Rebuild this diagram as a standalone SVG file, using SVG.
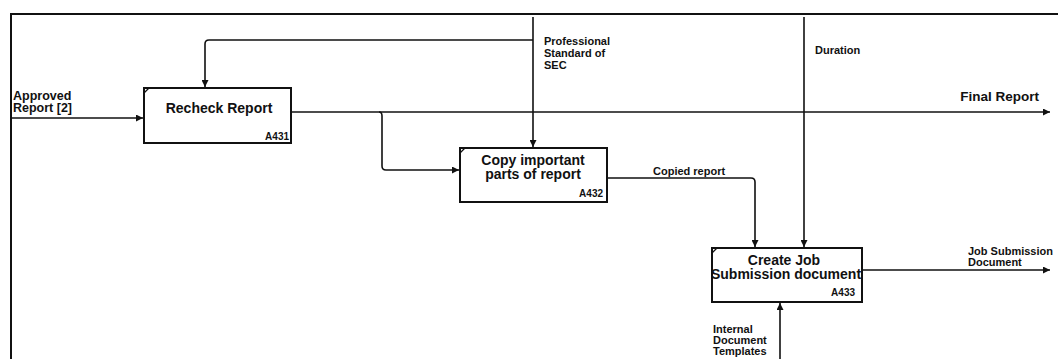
<svg xmlns="http://www.w3.org/2000/svg" width="1058" height="359" viewBox="0 0 1058 359">
  <style>
    text { font-family: "Liberation Sans", Arial, sans-serif; font-weight: bold; fill: #111; }
    .box { fill: #fff; stroke: #111; stroke-width: 2; }
    .tick { stroke: #111; stroke-width: 1.2; fill: none; }
    .title { font-size: 14px; text-anchor: middle; }
    .code { font-size: 10px; text-anchor: end; }
    .lbl { font-size: 11px; }
    .wire { fill: none; stroke: #111; stroke-width: 1.6; }
    .frame { fill: none; stroke: #111; stroke-width: 2; }
  </style>
  <defs>
    <marker id="arrow" viewBox="0 0 10 10" refX="10" refY="5" markerWidth="8" markerHeight="7" markerUnits="userSpaceOnUse" orient="auto">
      <path d="M0,0 L10,5 L0,10 Z" fill="#111"/>
    </marker>
  </defs>

  <rect width="1058" height="359" fill="#fff"/>

  <!-- diagram frame (top and left edges) -->
  <path class="frame" d="M11,359 V14 H1058"/>

  <!-- connectors -->
  <g id="connectors">
    <!-- Approved Report [2] into A431 -->
    <path class="wire" d="M11,118 H143" marker-end="url(#arrow)"/>
    <!-- Professional Standard of SEC: control to A432 -->
    <path class="wire" d="M533,17 V147" marker-end="url(#arrow)"/>
    <!-- branch of control to A431 -->
    <path class="wire" d="M533,40 H209 Q205,40 205,44 V87" marker-end="url(#arrow)"/>
    <!-- A431 output: Final Report -->
    <path class="wire" d="M291,112 H1050" marker-end="url(#arrow)"/>
    <!-- branch of A431 output into A432 -->
    <path class="wire" d="M379,112 Q382,112 382,116 V166 Q382,170 386,170 H459" marker-end="url(#arrow)"/>
    <!-- Copied report: A432 to A433 -->
    <path class="wire" d="M607,178 H751 Q755,178 755,182 V247" marker-end="url(#arrow)"/>
    <!-- Duration: control to A433 -->
    <path class="wire" d="M804,17 V247" marker-end="url(#arrow)"/>
    <!-- A433 output: Job Submission Document -->
    <path class="wire" d="M862,270 H1050" marker-end="url(#arrow)"/>
    <!-- Internal Document Templates: mechanism to A433 -->
    <path class="wire" d="M780,359 V303" marker-end="url(#arrow)"/>

    <text class="lbl" x="13" y="100" style="font-size:12.5px">Approved</text>
    <text class="lbl" x="13" y="112" style="font-size:12.5px">Report [2]</text>
    <text class="lbl" x="544" y="45">Professional</text>
    <text class="lbl" x="544" y="57">Standard of</text>
    <text class="lbl" x="544" y="69">SEC</text>
    <text class="lbl" x="815" y="54">Duration</text>
    <text class="lbl" x="1039" y="101" style="font-size:13.5px;text-anchor:end">Final Report</text>
    <text class="lbl" x="653" y="175">Copied report</text>
    <text class="lbl" x="968" y="255">Job Submission</text>
    <text class="lbl" x="968" y="266">Document</text>
    <text class="lbl" x="713" y="333">Internal</text>
    <text class="lbl" x="713" y="344">Document</text>
    <text class="lbl" x="713" y="355">Templates</text>
  </g>

  <!-- A431 -->
  <g id="A431">
    <rect class="box" x="144" y="88" width="147" height="55"/>
    <path class="tick" d="M144,93 L149,88"/>
    <text class="title" x="219" y="113">Recheck Report</text>
    <text class="code" x="289" y="140">A431</text>
  </g>

  <!-- A432 -->
  <g id="A432">
    <rect class="box" x="460" y="148" width="147" height="54"/>
    <path class="tick" d="M460,153 L465,148"/>
    <text class="title" x="533" y="165">Copy important</text>
    <text class="title" x="533" y="179">parts of report</text>
    <text class="code" x="603" y="197">A432</text>
  </g>

  <!-- A433 -->
  <g id="A433">
    <rect class="box" x="712" y="248" width="150" height="54"/>
    <path class="tick" d="M712,253 L717,248"/>
    <text class="title" x="784" y="265">Create Job</text>
    <text class="title" x="786" y="279">Submission document</text>
    <text class="code" x="855" y="296">A433</text>
  </g>
</svg>
